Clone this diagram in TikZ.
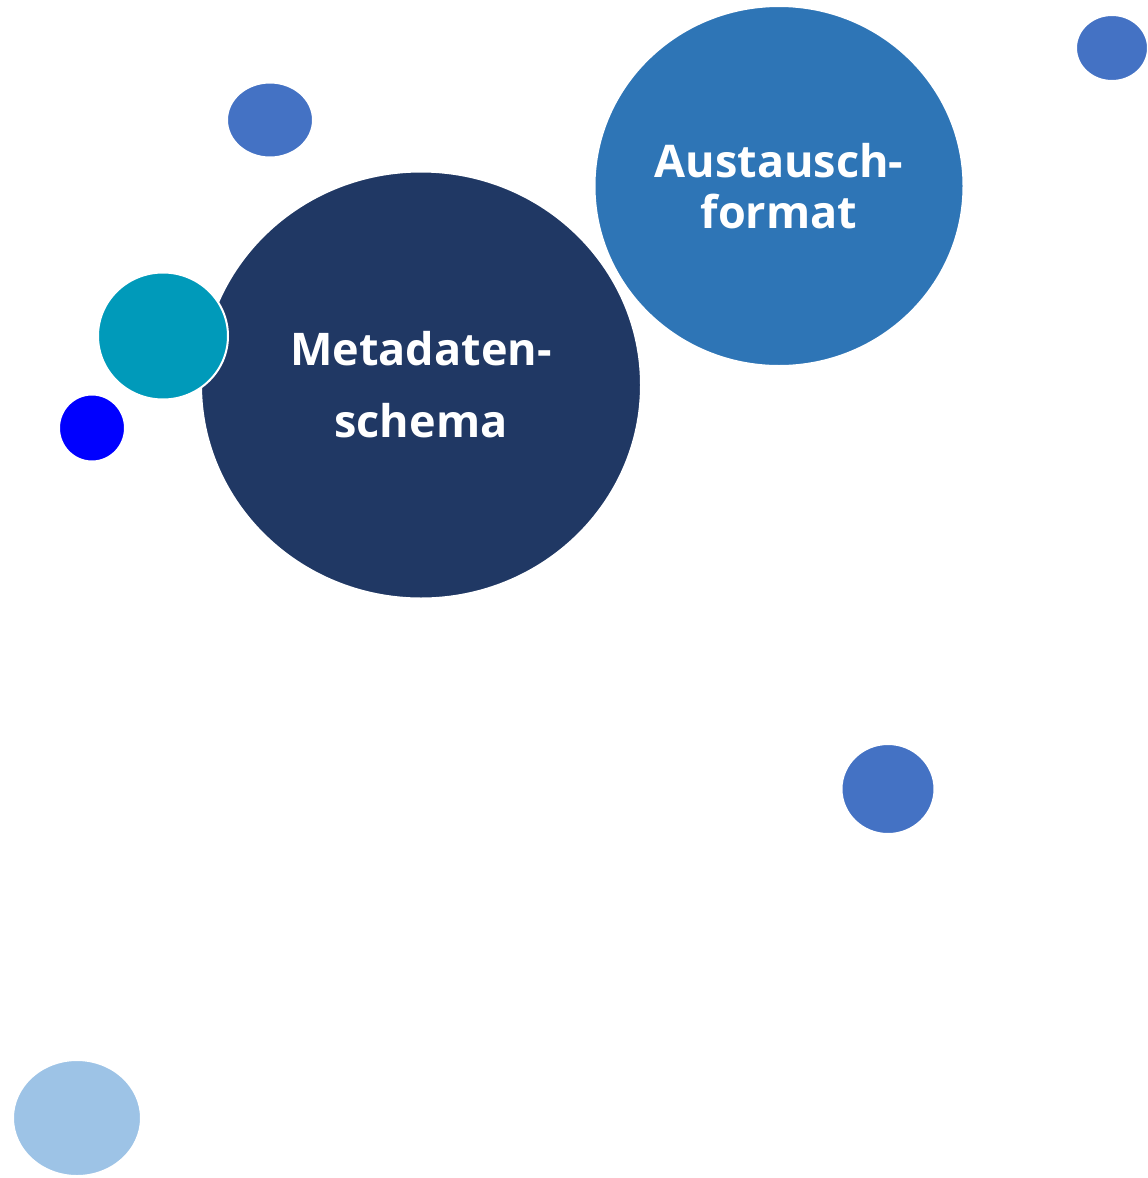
\documentclass[tikz,border=0pt]{standalone}
\usepackage{fontspec}
\setmainfont{Open Sans}
\usetikzlibrary{shapes.geometric}
\definecolor{navy}{HTML}{203864}
\definecolor{steel}{HTML}{2E75B6}
\definecolor{teal}{HTML}{009ABA}
\definecolor{midblue}{HTML}{4472C4}
\definecolor{pureblue}{HTML}{0000FF}
\definecolor{skyblue}{HTML}{9DC3E6}
\tikzset{bubble/.style={ellipse, draw=white, line width=2pt, inner sep=0pt, text=white, align=center, font=\bfseries}}
\begin{document}
\begin{tikzpicture}[x=1pt, y=-1pt]
  \useasboundingbox (0,0) rectangle (1148,1178);
  \node (schema)[bubble, fill=navy, minimum width=440, minimum height=427, font=\bfseries\fontsize{45}{72}\selectfont] at (421,385) {Metadaten-\\schema};
  \node (format)[bubble, fill=steel, minimum width=369, minimum height=360, font=\bfseries\fontsize{45}{51}\selectfont] at (779,186) {Austausch-\\format};
  \node (teal)[bubble, fill=teal, minimum width=130, minimum height=127] at (163,336) {};
  \node (topleft)[bubble, fill=midblue, minimum width=86, minimum height=75] at (270,120) {};
  \node (topright)[bubble, fill=midblue, minimum width=72, minimum height=66] at (1112,48) {};
  \node (blue)[bubble, fill=pureblue, minimum width=66, minimum height=67] at (92,428) {};
  \node (midright)[bubble, fill=midblue, minimum width=93, minimum height=90] at (888,789) {};
  \node (bottomleft)[bubble, fill=skyblue, minimum width=128, minimum height=116] at (77,1118) {};
\end{tikzpicture}
\end{document}
